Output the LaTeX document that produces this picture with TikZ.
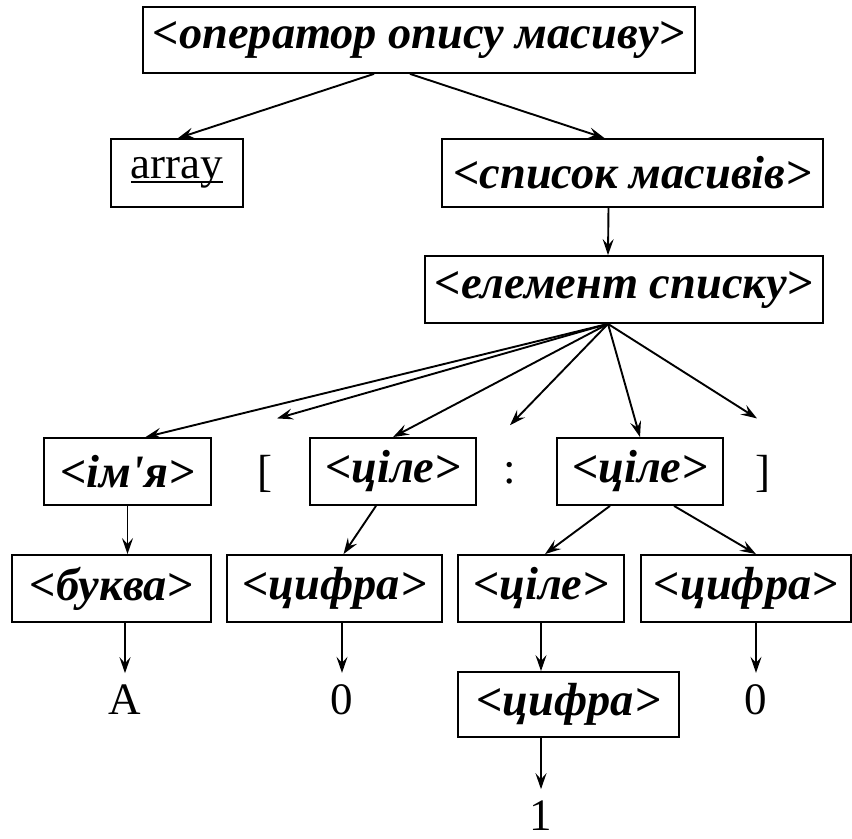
\documentclass[tikz,border=0pt]{standalone}
\usepackage{fontspec}
\setmainfont{Liberation Serif}
\usetikzlibrary{arrows.meta}
\newcommand\treesize{\fontsize{22.5}{26}\selectfont}
\newcommand\ntsize{\fontsize{23.2}{27}\selectfont}
\newlength\ulwd
\newcommand\uword[1]{\settowidth\ulwd{#1}\rlap{\rule[-2pt]{\ulwd}{0.7pt}}#1}
\tikzset{
  nt/.style={draw,line width=0.9pt,minimum height=33.5pt,inner sep=0pt,font=\ntsize\bfseries\itshape},
  term/.style={inner sep=0pt,font=\treesize}
}
\begin{document}
\begin{tikzpicture}[x=0.5pt,y=-0.5pt,>={Stealth[length=8pt,width=5.5pt,inset=3pt]},line width=0.95pt]
		\useasboundingbox (0,0) rectangle (852,839);
		% rows of the tree
		\node[nt,minimum width=276pt,minimum height=33pt] (op) at (419,40) {<оператор опису масиву>};
		\node[term,draw,line width=0.9pt,minimum width=66pt,minimum height=34pt] (arr) at (177,173) {\uword{array}};
		\node[nt,minimum width=190.5pt,minimum height=34pt] (list) at (632.5,173) {<список масивів>};
		\node[nt,minimum width=199pt] (elem) at (624,289.5) {<елемент списку>};
		\node[nt,minimum width=83.5pt] (name) at (127.5,471.5) {<ім\textquotesingle я>};
		\node[term] (lbr) at (265,474) {[};
		\node[nt,minimum width=83pt] (int1) at (393,471.5) {<ціле>};
		\node[term] (colon) at (510,473) {:};
		\node[nt,minimum width=83pt] (int2) at (640,471.5) {<ціле>};
		\node[term] (rbr) at (763,474) {]};
		\node[nt,minimum width=99.5pt] (letter) at (111.5,588.5) {<буква>};
		\node[nt,minimum width=107.5pt] (dig1) at (334.5,588.5) {<цифра>};
		\node[nt,minimum width=83pt] (int3) at (541,588.5) {<ціле>};
		\node[nt,minimum width=105pt] (dig2) at (746,588.5) {<цифра>};
		\node[nt,minimum width=110.5pt,minimum height=32.5pt] (dig3) at (568.5,704.5) {<цифра>};
		\node[term] (la) at (125,700) {A};
		\node[term] (d0a) at (342,700) {0};
		\node[term] (d0b) at (756,700) {0};
		\node[term] (d1) at (541,816) {1};
		% arrows
		\draw[->] ([xshift=-22.5pt]op.south) -- ([xshift=0.5pt]arr.north);
		\draw[->] ([xshift=-4.5pt]op.south) -- ([xshift=-14pt]list.north);
		\draw[->] ([xshift=-12pt]list.south) -- ([xshift=-8pt]elem.north);
		\coordinate (fan) at ([xshift=-8pt]elem.south);
		\draw[->] (fan) -- ([xshift=9pt]name.north);
		\draw[->] (fan) -- ([yshift=18pt]lbr.north-|277,0);
		\draw[->] (fan) -- (int1.north);
		\draw[->] (fan) -- ([yshift=18pt]colon.north);
		\draw[->] (fan) -- (int2.north);
		\draw[->] (fan) -- ([yshift=18pt]rbr.north-|757,0);
		\draw[->] (name.south) -- (letter.north-|name.south);
		\draw[->] ([xshift=-8.5pt]int1.south) -- ([xshift=4.5pt]dig1.north);
		\draw[->] ([xshift=-15pt]int2.south) -- ([xshift=2pt]int3.north);
		\draw[->] ([xshift=17pt]int2.south) -- ([xshift=5pt]dig2.north);
		\draw[->] (letter.south-|la.north) -- ([yshift=5.5pt]la.north);
		\draw[->] (dig1.south-|d0a.north) -- ([yshift=5.5pt]d0a.north);
		\draw[->] (int3.south) -- (dig3.north-|int3.south);
		\draw[->] (dig2.south-|d0b.north) -- ([yshift=5.5pt]d0b.north);
		\draw[->] (dig3.south-|d1.north) -- ([yshift=5.5pt]d1.north);
\end{tikzpicture}
\end{document}
